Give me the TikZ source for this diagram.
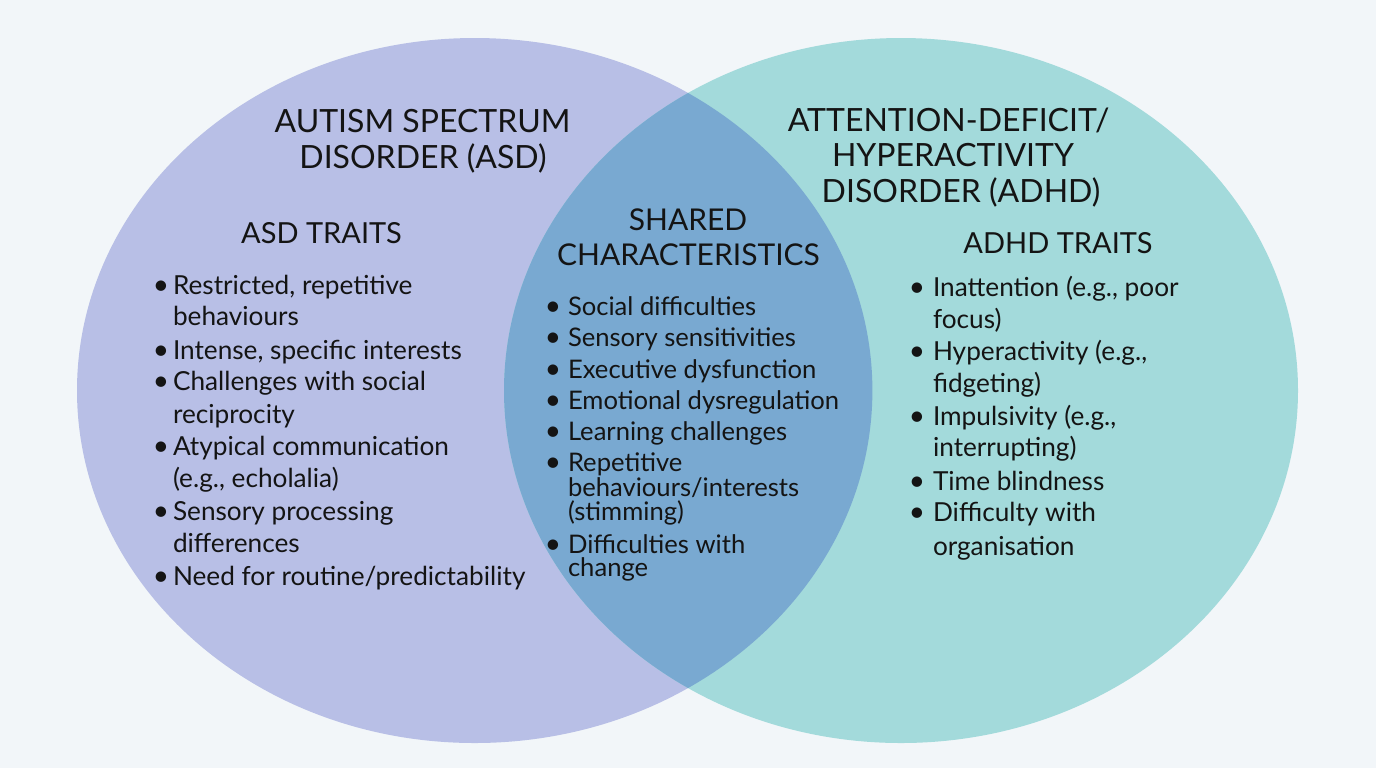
\documentclass[tikz,border=0pt]{standalone}
\usepackage{fontspec}
\setmainfont{Lato}
\begin{document}
\begin{tikzpicture}[x=0.5pt,y=-0.5pt,
  txt/.style={inner sep=0pt,outer sep=0pt,text=ink},
  head/.style={txt,anchor=base,font=\fontsize{16}{19}\selectfont},
  sub/.style={txt,anchor=base,font=\fontsize{14.5}{17}\selectfont},
  lline/.style={txt,anchor=base west,font=\fontsize{13.1}{15}\selectfont},
  cline/.style={txt,anchor=base west,font=\fontsize{12.8}{15}\selectfont},
  dot/.style={txt,anchor=base,font=\fontsize{14}{15}\selectfont},
]
\definecolor{bg}{HTML}{F2F6F9}
\definecolor{asd}{HTML}{B8BFE6}
\definecolor{adhd}{HTML}{A3DADB}
\definecolor{both}{HTML}{79A9D1}
\definecolor{ink}{HTML}{141414}

% canvas
\fill[bg] (0,0) rectangle (1376,768);
\useasboundingbox (0,0) rectangle (1376,768);

% the two sets and their overlap
\fill[asd]  (474.7,390.5) ellipse [x radius=198.85pt, y radius=176.25pt];
\fill[adhd] (901,390.5) ellipse [x radius=198.5pt, y radius=176.25pt];
\begin{scope}
  \clip (474.7,390.5) ellipse [x radius=198.85pt, y radius=176.25pt];
  \fill[both] (901,390.5) ellipse [x radius=198.5pt, y radius=176.25pt];
\end{scope}

% ASD heading
\node[head] (asdA) at (422.5,132.5) {AUTISM SPECTRUM};
\node[head] (asdB) at (423,168) {DISORDER (ASD)};
\node[sub]  (asdT) at (321.5,243) {ASD TRAITS};

% ADHD heading
\node[head] (adhdA) at (948.5,131.5) {ATTENTION-DEFICIT/};
\node[head] (adhdB) at (953,166.5) {HYPERACTIVITY};
\node[head] (adhdC) at (961,202) {DISORDER (ADHD)};
\node[sub]  (adhdT) at (1058,253) {ADHD TRAITS};

% shared heading
\node[sub,font=\fontsize{15}{17}\selectfont] (shA) at (688,230) {SHARED};
\node[sub,font=\fontsize{15}{17}\selectfont] (shB) at (688.5,265) {CHARACTERISTICS};

% ASD traits
\foreach \y in {294.5,359,390.7,455.7,520.7,585}
  \node[dot] at (161,\y) {•};
\node[lline] (l1) at (173,294.5) {Restricted, repetitive};
\node[lline] (l2) at (173,325.7) {behaviours};
\node[lline] (l3) at (173,359) {Intense, specific interests};
\node[lline] (l4) at (173,390.7) {Challenges with social};
\node[lline] (l5) at (173,423) {reciprocity};
\node[lline] (l6) at (173,455.7) {Atypical communication};
\node[lline] (l7) at (173,487.7) {(e.g., echolalia)};
\node[lline] (l8) at (173,520.7) {Sensory processing};
\node[lline] (l9) at (173,552.7) {differences};
\node[lline] (l10) at (173,585) {Need for routine/predictability};

% shared characteristics
\foreach \y in {315,346,378.3,409.3,440.7,471.7,553.3}
  \node[dot] at (553,\y) {•};
\node[cline] (c1) at (568,315) {Social difficulties};
\node[cline] (c2) at (568,346) {Sensory sensitivities};
\node[cline] (c3) at (568,378.3) {Executive dysfunction};
\node[cline] (c4) at (568,409.3) {Emotional dysregulation};
\node[cline] (c5) at (568,440.7) {Learning challenges};
\node[cline] (c6) at (568,471.7) {Repetitive};
\node[cline] (c7) at (568,496.7) {behaviours/interests};
\node[cline] (c8) at (568,520.7) {(stimming)};
\node[cline] (c9) at (568,553.3) {Difficulties with};
\node[cline] (c10) at (568,576.7) {change};

% ADHD traits
\foreach \y in {296,360.7,425,490,521.7}
  \node[dot] at (917,\y) {•};
\node[lline] (r1) at (933,296) {Inattention (e.g., poor};
\node[lline] (r2) at (933,328.3) {focus)};
\node[lline] (r3) at (933,360.7) {Hyperactivity (e.g.,};
\node[lline] (r4) at (933,392.7) {fidgeting)};
\node[lline] (r5) at (933,425) {Impulsivity (e.g.,};
\node[lline] (r6) at (933,456.7) {interrupting)};
\node[lline] (r7) at (933,490) {Time blindness};
\node[lline] (r8) at (933,521.7) {Difficulty with};
\node[lline] (r9) at (933,555) {organisation};
\end{tikzpicture}
\end{document}
